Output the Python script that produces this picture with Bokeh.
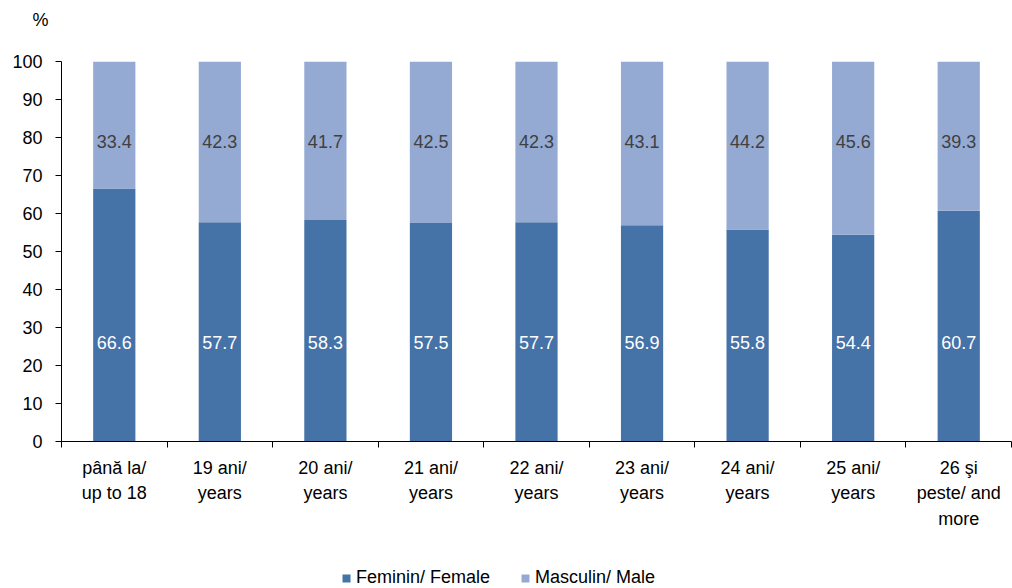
import numpy as np
from bokeh.plotting import figure
from bokeh.layouts import column
from bokeh.models import (ColumnDataSource, FixedTicker, Range1d, Title, Legend,
                          LegendItem)
from bokeh.core.properties import value
from bokeh.embed import file_html
from bokeh.resources import INLINE

categories = ["până la/\nup to 18", "19 ani/\nyears", "20 ani/\nyears",
              "21 ani/\nyears", "22 ani/\nyears", "23 ani/\nyears",
              "24 ani/\nyears", "25 ani/\nyears", "26 şi\npeste/ and\nmore"]
female = [66.6, 57.7, 58.3, 57.5, 57.7, 56.9, 55.8, 54.4, 60.7]
male = [33.4, 42.3, 41.7, 42.5, 42.3, 43.1, 44.2, 45.6, 39.3]
y_ticks = list(range(0, 101, 10))
series_names = ["Feminin/ Female", "Masculin/ Male"]
unit_label = "%"

FONT = "Liberation Sans"
C_FEMALE = "#4572A7"
C_MALE = "#94AAD3"
W = 1012
H_TOP, H_MAIN, H_LEG = 36, 519, 33

n = len(categories)
xc = np.arange(n) + 0.5
bottom_male = np.array(female)
top_male = bottom_male + np.array(male)

src = ColumnDataSource(dict(
    x=xc, female=female, male=male, bm=bottom_male, tm=top_male,
    flab=[f"{v:.1f}" for v in female], mlab=[f"{v:.1f}" for v in male],
    fy=[26.0] * n, my=[78.9] * n,
))

# top strip carrying the "%" unit label
pt = figure(width=W, height=H_TOP, output_backend="svg", toolbar_location=None,
            x_range=Range1d(0, 1), y_range=Range1d(0, 1),
            x_axis_type=None, y_axis_type=None,
            min_border_left=61, min_border_right=1, min_border_top=0,
            min_border_bottom=0)
pt.outline_line_color = None
pt.title = Title(text=unit_label, align="left", offset=-29, standoff=14,
                 vertical_align="bottom",
                 text_font=FONT, text_font_size="18px", text_color="black",
                 text_font_style="normal")
empty = ColumnDataSource(dict(x=[0.5], top=[0.0]))
pt.vbar(x="x", top="top", width=0.0, source=empty, fill_alpha=0, line_alpha=0)

p = figure(width=W, height=H_MAIN, output_backend="svg", toolbar_location=None,
           x_range=Range1d(0, n), y_range=Range1d(0, 100),
           min_border_left=61, min_border_right=1, min_border_top=25,
           min_border_bottom=114)
p.outline_line_color = None
p.xgrid.visible = False
p.ygrid.visible = False
p.background_fill_color = "white"
p.border_fill_color = "white"

p.vbar(x="x", top="female", bottom=0, width=0.4, source=src,
       fill_color=C_FEMALE, line_color=None)
p.vbar(x="x", top="tm", bottom="bm", width=0.4, source=src,
       fill_color=C_MALE, line_color=None)

p.text(x="x", y="fy", text="flab", source=src, text_font=value(FONT),
       text_font_size="18px", text_color="white", text_align="center",
       text_baseline="middle")
p.text(x="x", y="my", text="mlab", source=src, text_font=value(FONT),
       text_font_size="18px", text_color="#404040", text_align="center",
       text_baseline="middle")

# x axis: labels at centers, tick marks at category boundaries
p.xaxis.ticker = FixedTicker(ticks=list(xc), minor_ticks=list(range(n + 1)))
p.xaxis.major_label_overrides = {float(x): c for x, c in zip(xc, categories)}
p.xaxis.major_tick_out = 0
p.xaxis.major_tick_in = 0
p.xaxis.minor_tick_out = 6
p.xaxis.minor_tick_in = 0
p.xaxis.minor_tick_line_color = "black"
p.xaxis.axis_line_color = "black"
p.xaxis.major_label_text_font = FONT
p.xaxis.major_label_text_font_size = "18px"
p.xaxis.major_label_text_color = "black"
p.xaxis.major_label_text_line_height = 1.28
p.xaxis.major_label_standoff = 10

p.yaxis.ticker = FixedTicker(ticks=y_ticks, minor_ticks=[])
p.yaxis.major_tick_out = 6
p.yaxis.major_tick_in = 0
p.yaxis.major_tick_line_color = "black"
p.yaxis.axis_line_color = "black"
p.yaxis.major_label_text_font = FONT
p.yaxis.major_label_text_font_size = "18px"
p.yaxis.major_label_text_color = "black"
p.yaxis.major_label_standoff = 13

# legend strip below the chart (swatch renderers have zero size)
pl = figure(width=W, height=H_LEG, output_backend="svg", toolbar_location=None,
            x_range=Range1d(0, 1), y_range=Range1d(0, 1),
            x_axis_type=None, y_axis_type=None,
            min_border_left=61, min_border_right=1, min_border_top=0,
            min_border_bottom=0)
pl.outline_line_color = None
swatch = ColumnDataSource(dict(x=[0.5], top=[0.0]))
lr_f = pl.vbar(x="x", top="top", width=0.0, source=swatch,
               fill_color=C_FEMALE, line_color=None)
lr_m = pl.vbar(x="x", top="top", width=0.0, source=swatch,
               fill_color=C_MALE, line_color=None)
legend = Legend(items=[LegendItem(label=series_names[0], renderers=[lr_f]),
                       LegendItem(label=series_names[1], renderers=[lr_m])],
                orientation="horizontal", location=(280, 0),
                border_line_color=None, background_fill_alpha=0,
                label_text_font=FONT, label_text_font_size="18px",
                label_text_color="black", glyph_width=10, glyph_height=10,
                label_standoff=5, spacing=30, padding=0, margin=0,
                label_height=18)
pl.add_layout(legend, "center")

layout = column(pt, p, pl, spacing=0)
open("out.html", "w").write(file_html(layout, INLINE))
